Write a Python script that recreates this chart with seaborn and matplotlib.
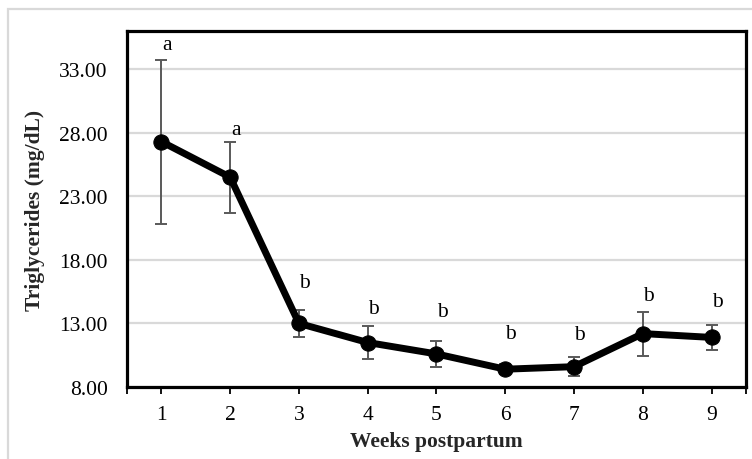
import matplotlib
matplotlib.use("Agg")
import matplotlib.pyplot as plt
import matplotlib.patches as mpatches
import seaborn as sns
import pandas as pd
import numpy as np

# Weekly triglyceride means with their error (±) and significance letters
weeks = [1, 2, 3, 4, 5, 6, 7, 8, 9]
triglycerides = [27.3, 24.5, 13.0, 11.5, 10.6, 9.4, 9.6, 12.2, 11.9]
errors = [6.45, 2.8, 1.07, 1.3, 1.0, 0.4, 0.75, 1.73, 1.0]
letters = ["a", "a", "b", "b", "b", "b", "b", "b", "b"]
letter_y = [34.97, 28.28, 16.25, 14.21, 13.94, 12.21, 12.09, 15.19, 14.76]
y_ticks = [8, 13, 18, 23, 28, 33]

df = pd.DataFrame({"week": weeks, "tg": triglycerides, "err": errors})

sns.set_theme(style="white")
plt.rcParams["font.family"] = ["Liberation Serif", "DejaVu Serif"]

fig = plt.figure(figsize=(7.52, 4.60), dpi=100)
fig.patch.set_facecolor("white")

# light chart-area border
fig.patches.append(mpatches.Rectangle((8 / 752, -0.05), 1.2, 1 - 10 / 460 + 0.05,
                                      transform=fig.transFigure, fill=False,
                                      edgecolor="#d9d9d9", linewidth=1.6, zorder=0))

ax = fig.add_axes([127 / 752, 1 - 388 / 460, (746 - 127) / 752, (388 - 32) / 460])

ax.errorbar(df["week"], df["tg"], yerr=df["err"], fmt="none", ecolor="#595959",
            elinewidth=1.4, capsize=4.5, capthick=1.4, zorder=2)
sns.lineplot(data=df, x="week", y="tg", ax=ax, color="black", linewidth=5,
             marker="o", markersize=11, markeredgecolor="black", zorder=3)

for w, lab, ly in zip(weeks, letters, letter_y):
    ax.annotate(lab, (w, ly), xytext=(4, 0), textcoords="offset points",
                ha="center", va="center", fontsize=15.5, color="black")

ax.set_xlim(0.5, 9.5)
ax.set_ylim(8, 36)
ax.set_yticks(y_ticks)
ax.set_yticklabels([f"{v:.2f}" for v in y_ticks])
ax.set_xticks(weeks)
ax.set_xticklabels([str(w) for w in weeks])
ax.set_xticks([0.5, 9.5], minor=True)

ax.grid(axis="y", color="#d9d9d9", linewidth=1.6, zorder=0)
ax.set_axisbelow(True)

for s in ax.spines.values():
    s.set_color("black")
    s.set_linewidth(2.3)

ax.tick_params(axis="x", which="both", direction="out", length=5, width=1.3,
               colors="black", labelsize=15.5, pad=8, bottom=True)
ax.tick_params(axis="y", length=0, labelsize=15.5, pad=14, colors="black")

ax.set_xlabel("Weeks postpartum", fontsize=15.5, fontweight="bold", labelpad=5)
ax.set_ylabel("Triglycerides (mg/dL)", fontsize=15.5, fontweight="bold", labelpad=10)

fig.savefig("out.png", dpi=100, facecolor="white")
